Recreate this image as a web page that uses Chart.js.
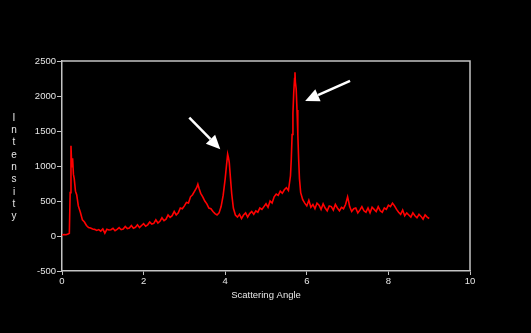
<!DOCTYPE html>
<html>
<head>
<meta charset="utf-8">
<script src="https://cdn.jsdelivr.net/npm/chart.js@4/dist/chart.umd.min.js"></script>
<style>
  html, body { margin: 0; padding: 0; background: #000; }
  #wrap { width: 531px; height: 333px; }
</style>
</head>
<body>
<div id="wrap"><canvas id="c" width="531" height="333"></canvas></div>
<script>
// Scattering profile: intensity vs angle, with two peaks marked by arrows.

const AXIS = '#c4c4c4';
const TEXT = '#e6e6e6';
const RED = '#ff0000';
const FONT = 'Liberation Sans, Arial, sans-serif';

const xTicks = [0, 2, 4, 6, 8, 10];
const yTicks = [-500, 0, 500, 1000, 1500, 2000, 2500];

const angle = [
    0, 0.05, 0.1, 0.15, 0.18, 0.2, 0.22, 0.24, 0.26, 0.28, 0.3, 0.33, 0.36, 0.4, 0.45,
    0.5, 0.55, 0.6, 0.65, 0.7, 0.75, 0.8, 0.85, 0.9, 0.95, 1.0, 1.05, 1.1, 1.15, 1.2,
    1.25, 1.3, 1.35, 1.4, 1.45, 1.5, 1.55, 1.6, 1.65, 1.7, 1.75, 1.8, 1.85, 1.9, 1.95,
    2.0, 2.05, 2.1, 2.15, 2.2, 2.25, 2.3, 2.35, 2.4, 2.45, 2.5, 2.55, 2.6, 2.65, 2.7,
    2.75, 2.8, 2.85, 2.9, 2.95, 3.0, 3.05, 3.1, 3.15, 3.2, 3.25, 3.3, 3.33, 3.36, 3.4,
    3.45, 3.5, 3.55, 3.6, 3.65, 3.7, 3.75, 3.8, 3.85, 3.9, 3.95, 4.0, 4.03, 4.06, 4.08,
    4.1, 4.13, 4.16, 4.2, 4.25, 4.3, 4.35, 4.4, 4.45, 4.5, 4.55, 4.6, 4.65, 4.7, 4.75,
    4.8, 4.85, 4.9, 4.95, 5.0, 5.05, 5.1, 5.15, 5.2, 5.25, 5.3, 5.35, 5.4, 5.45, 5.5,
    5.55, 5.6, 5.62, 5.64, 5.66, 5.68, 5.7, 5.71, 5.72, 5.74, 5.76, 5.78, 5.8, 5.82, 5.85,
    5.9, 5.95, 6.0, 6.05, 6.1, 6.15, 6.2, 6.25, 6.3, 6.35, 6.4, 6.45, 6.5, 6.55, 6.6,
    6.65, 6.7, 6.75, 6.8, 6.85, 6.9, 6.95, 7.0, 7.03, 7.05, 7.1, 7.15, 7.2, 7.25, 7.3,
    7.35, 7.4, 7.45, 7.5, 7.55, 7.6, 7.65, 7.7, 7.75, 7.8, 7.85, 7.9, 7.95, 8.0, 8.05,
    8.1, 8.15, 8.2, 8.25, 8.3, 8.35, 8.4, 8.45, 8.5, 8.55, 8.6, 8.65, 8.7, 8.75, 8.8,
    8.85, 8.9, 8.95, 9.0
];

const intensity = [
    15, 22, 18, 28, 40, 620, 1290, 980, 1110, 880, 820, 640, 590, 430, 340,
    230, 200, 150, 120, 115, 100, 95, 80, 92, 70, 100, 40, 95, 85, 90,
    110, 75, 95, 120, 90, 100, 135, 105, 115, 150, 110, 125, 160, 120, 150,
    175, 140, 160, 200, 170, 180, 230, 185, 210, 260, 220, 240, 300, 265, 290,
    350, 300, 330, 400, 390, 430, 480, 470, 560, 590, 640, 690, 740, 680, 610,
    560, 500, 460, 400, 390, 350, 320, 300, 330, 420, 580, 820, 1000, 1170, 1120,
    1050, 820, 600, 400, 300, 270, 310, 250, 300, 330, 270, 320, 350, 310, 360,
    340, 400, 380, 420, 460, 410, 500, 470, 560, 600, 580, 640, 610, 660, 690,
    650, 860, 1100, 1450, 1750, 2050, 2250, 2340, 2200, 2100, 1800, 1450, 1100, 820, 620,
    520, 470, 430, 510, 410, 450, 390, 470, 440, 380, 460, 400, 360, 430, 420,
    370, 450, 400, 360, 410, 390, 450, 560, 480, 420, 350, 390, 400, 330, 370,
    420, 360, 340, 400, 330, 410, 380, 350, 420, 360, 340, 400, 380, 440, 420,
    470, 430, 380, 340, 310, 370, 290, 330, 300, 270, 330, 290, 260, 310, 280,
    240, 300, 270, 250
];

// arrows in data units: [tailX, tailY, tipX, tipY]
const arrows = [
    [3.12, 1690, 3.88, 1240],
    [7.06, 2215, 5.96, 1930]
];

const yTitle = 'Intensity';
const xTitle = 'Scattering Angle';

const backdrop = {
    id: 'backdrop',
    beforeDraw(chart) {
        const ctx = chart.ctx;
        ctx.save();
        ctx.fillStyle = '#000';
        ctx.fillRect(0, 0, chart.width, chart.height);
        ctx.restore();
    }
};

const frame = {
    id: 'frame',
    afterDraw(chart) {
        const { ctx, chartArea: a, scales } = chart;
        ctx.save();
        ctx.strokeStyle = AXIS;
        ctx.lineWidth = 1.5;
        ctx.beginPath();
        ctx.moveTo(a.left, a.top);
        ctx.lineTo(a.right, a.top);
        ctx.lineTo(a.right, a.bottom);
        ctx.stroke();

        // arrows
        ctx.strokeStyle = '#fff';
        ctx.fillStyle = '#fff';
        arrows.forEach(([x0, y0, x1, y1]) => {
            const px0 = scales.x.getPixelForValue(x0), py0 = scales.y.getPixelForValue(y0);
            const px1 = scales.x.getPixelForValue(x1), py1 = scales.y.getPixelForValue(y1);
            const ang = Math.atan2(py1 - py0, px1 - px0);
            const head = 14, half = 6.5;
            const bx = px1 - head * Math.cos(ang), by = py1 - head * Math.sin(ang);
            ctx.lineWidth = 2.5;
            ctx.beginPath();
            ctx.moveTo(px0, py0);
            ctx.lineTo(bx, by);
            ctx.stroke();
            ctx.beginPath();
            ctx.moveTo(px1, py1);
            ctx.lineTo(bx + half * Math.sin(ang), by - half * Math.cos(ang));
            ctx.lineTo(bx - half * Math.sin(ang), by + half * Math.cos(ang));
            ctx.closePath();
            ctx.fill();
        });

        // stacked y title
        ctx.fillStyle = TEXT;
        ctx.font = '10px ' + FONT;
        ctx.textAlign = 'center';
        ctx.textBaseline = 'middle';
        yTitle.split('').forEach((ch, i) => ctx.fillText(ch, 14, 118 + i * 12.3));
        ctx.restore();
    }
};

new Chart(document.getElementById('c'), {
    type: 'line',
    data: {
        datasets: [{
            data: angle.map((a, i) => ({ x: a, y: intensity[i] })),
            borderColor: RED,
            borderWidth: 1.6,
            pointRadius: 0,
            tension: 0
        }]
    },
    options: {
        responsive: false,
        animation: false,
        devicePixelRatio: 1,
        layout: { padding: { left: 0, top: 61, right: 61, bottom: 32 } },
        plugins: { legend: { display: false }, tooltip: { enabled: false } },
        scales: {
            x: {
                type: 'linear',
                min: 0, max: 10,
                afterBuildTicks: (s) => { s.ticks = xTicks.map(v => ({ value: v })); },
                afterFit: (s) => { s.height = 30; },
                border: { color: AXIS, width: 1.5 },
                grid: { drawOnChartArea: false, drawTicks: true, tickLength: 4, color: AXIS },
                ticks: { color: TEXT, padding: 1, callback: (v) => String(v), font: { family: FONT, size: 9.5 } },
                title: { display: true, text: xTitle, color: TEXT, padding: { top: 2, bottom: 0 }, font: { family: FONT, size: 9.5 } }
            },
            y: {
                min: -500, max: 2500,
                afterBuildTicks: (s) => { s.ticks = yTicks.map(v => ({ value: v })); },
                afterFit: (s) => { s.width = 62; },
                border: { color: AXIS, width: 1.5 },
                grid: { drawOnChartArea: false, drawTicks: true, tickLength: 5, color: AXIS },
                ticks: { color: TEXT, padding: 1, callback: (v) => String(v), font: { family: FONT, size: 9.5 } }
            }
        }
    },
    plugins: [backdrop, frame]
});
</script>
</body>
</html>
